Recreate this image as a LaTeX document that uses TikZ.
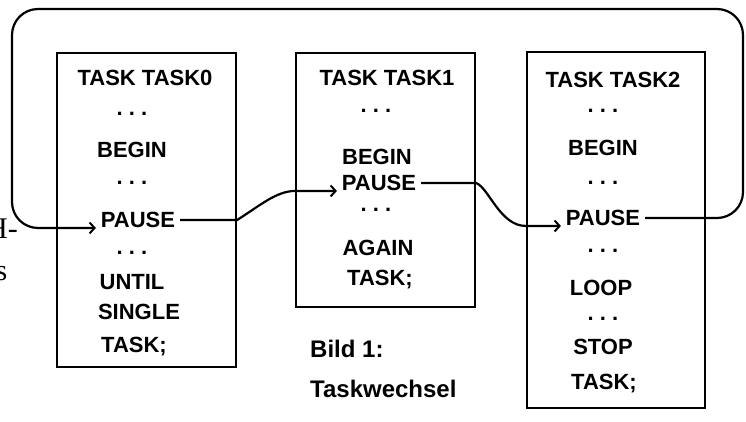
\documentclass[tikz,border=0pt]{standalone}
\usepackage{fontspec}
\setmainfont{Liberation Sans}
\newfontfamily\edgeserif{Liberation Serif}
\usetikzlibrary{arrows.meta}
\begin{document}
\begin{tikzpicture}[x=1pt,y=-1pt,
  line/.style={line width=2.2pt},
  tip/.style={-{Straight Barb[length=5pt,width=11pt,line width=2pt]}},
  taskbox/.style={draw, line width=2.2pt, inner sep=0pt},
  code/.style={font=\fontsize{22}{26}\selectfont\bfseries, inner sep=0pt,
               text height=15.5pt, text depth=0pt},
  pausetxt/.style={code, outer xsep=5pt},
  dots/.style={font=\fontsize{22}{26}\selectfont\bfseries, inner sep=0pt, anchor=base,
               text height=4pt, text depth=0pt},
  caption/.style={font=\fontsize{24}{28}\selectfont\bfseries, inner sep=0pt, anchor=base west},
  edge/.style={font=\fontsize{30}{34}\selectfont\edgeserif, inner sep=0pt, anchor=base east}
]
\useasboundingbox (0,0) rectangle (746,421);
\clip (0,0) rectangle (746,421);

% task boxes
\node[taskbox, minimum width=179pt, minimum height=314pt] (box1) at (146.5,210) {};
\node[taskbox, minimum width=179pt, minimum height=254pt] (box2) at (385.5,180) {};
\node[taskbox, minimum width=178pt, minimum height=356pt] (box3) at (616,230) {};

% first task
\node[code] (t1) at (145,78) {TASK TASK0};
\node[dots] (d1a) at (132,115) {.\ .\ .};
\node[code] (b1) at (132,150) {BEGIN};
\node[dots] (d1b) at (132,184) {.\ .\ .};
\node[pausetxt] (p1) at (138,220) {PAUSE};
\node[dots] (d1c) at (132,254) {.\ .\ .};
\node[code] (u1) at (132,282) {UNTIL};
\node[code] (s1) at (139,312) {SINGLE};
\node[code] (k1) at (134,345) {TASK;};

% second task
\node[code] (t2) at (387,78) {TASK TASK1};
\node[dots] (d2a) at (376,112) {.\ .\ .};
\node[code] (b2) at (377,157) {BEGIN};
\node[pausetxt] (p2) at (379,183) {PAUSE};
\node[dots] (d2b) at (376,211) {.\ .\ .};
\node[code] (a2) at (378,248) {AGAIN};
\node[code] (k2) at (380,278) {TASK;};

% third task
\node[code] (t3) at (613,80) {TASK TASK2};
\node[dots] (d3a) at (603,112) {.\ .\ .};
\node[code] (b3) at (603,148) {BEGIN};
\node[dots] (d3b) at (603,184) {.\ .\ .};
\node[pausetxt] (p3) at (603,218) {PAUSE};
\node[dots] (d3c) at (603,252) {.\ .\ .};
\node[code] (l3) at (601,288) {LOOP};
\node[dots] (d3d) at (603,320) {.\ .\ .};
\node[code] (s3) at (603,347) {STOP};
\node[code] (k3) at (604,382) {TASK;};

% switches between the tasks
\draw[line, tip] (p1.east) -- (box1.east |- p1.east)
  .. controls (258,207) and (276,191) .. (box2.west |- p2.south west)
  -- (p2.south west);
\draw[line, tip] (p2.east) -- (box2.east |- p2.east)
  .. controls (489,188) and (500,226) .. (box3.west |- p3.south west)
  -- (p3.south west);
\draw[line, tip, rounded corners=26pt] (p3.east) -- (743,218) -- (743,9)
  -- (12,9) -- (12,228) -- (p1.south west);

% caption
\node[caption] (cap1) at (310,357) {Bild 1:};
\node[caption] (cap2) at (310,397) {Taskwechsel};

% text running in from the left margin
\node[edge] (m1) at (18,238) {H-};
\node[edge] (m2) at (7.5,280) {s};
\end{tikzpicture}
\end{document}
